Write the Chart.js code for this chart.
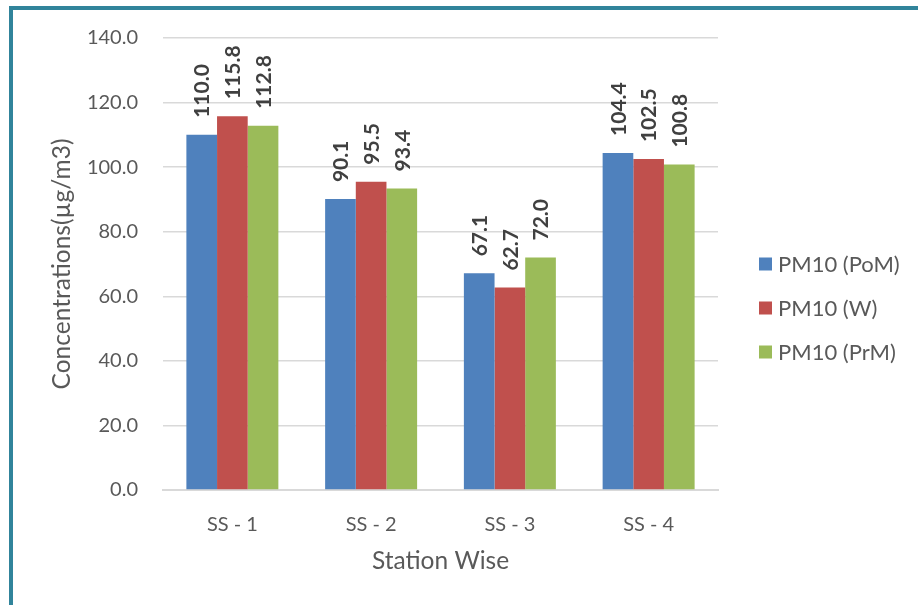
<!DOCTYPE html>
<html>
<head>
<meta charset="utf-8">
<script src="https://cdn.jsdelivr.net/npm/chart.js@4/dist/chart.umd.min.js"></script>
<style>
  html, body { margin: 0; padding: 0; background: #fff; }
  #wrap { position: relative; width: 918px; height: 605px; overflow: hidden; }
  #frame { position: absolute; left: 9px; top: 6px; width: 1000px; height: 700px;
           border-left: 4px solid #31849b; border-top: 4px solid #31849b; }
  canvas { position: absolute; left: 0; top: 0; }
</style>
</head>
<body>
<div id="wrap">
  <div id="frame"></div>
  <canvas id="chart" width="918" height="605"></canvas>
</div>
<script>
// Station categories and PM10 series
const stations = ['SS - 1', 'SS - 2', 'SS - 3', 'SS - 4'];
const seriesNames = ['PM10 (PoM)', 'PM10 (W)', 'PM10 (PrM)'];
const pomValues = [110.0, 90.1, 67.1, 104.4];
const wValues = [115.8, 95.5, 62.7, 102.5];
const prmValues = [112.8, 93.4, 72.0, 100.8];
const colors = ['#4f81bd', '#c0504d', '#9bbb59'];

const FONT = 'Lato, "Open Sans", sans-serif';
const textColor = '#595959';

// rotated bold value above each bar
const barLabels = {
  id: 'barLabels',
  afterDatasetsDraw(chart) {
    const ctx = chart.ctx;
    ctx.save();
    ctx.font = 'bold 21px ' + FONT;
    ctx.fillStyle = '#404040';
    ctx.textAlign = 'left';
    ctx.textBaseline = 'middle';
    chart.data.datasets.forEach((ds, di) => {
      chart.getDatasetMeta(di).data.forEach((bar, i) => {
        ctx.save();
        ctx.translate(bar.x + 1, bar.y - 17);
        ctx.rotate(-Math.PI / 2);
        ctx.fillText(ds.data[i].toFixed(1), 0, 0);
        ctx.restore();
      });
    });
    ctx.restore();
  }
};

// legend on the right, Excel style
const sideLegend = {
  id: 'sideLegend',
  afterDraw(chart) {
    const ctx = chart.ctx;
    ctx.save();
    ctx.font = '22px ' + FONT;
    ctx.textBaseline = 'middle';
    chart.data.datasets.forEach((ds, i) => {
      const y = 264 + i * 44;
      ctx.fillStyle = ds.backgroundColor;
      ctx.fillRect(759, y - 6.5, 13, 13);
      ctx.fillStyle = textColor;
      ctx.fillText(ds.label, 778, y + 1);
    });
    ctx.restore();
  }
};

new Chart(document.getElementById('chart').getContext('2d'), {
  type: 'bar',
  data: {
    labels: stations,
    datasets: [pomValues, wValues, prmValues].map((vals, i) => ({
      label: seriesNames[i],
      data: vals,
      backgroundColor: colors[i],
      borderWidth: 0,
      categoryPercentage: 0.663,
      barPercentage: 1,
    })),
  },
  options: {
    responsive: false,
    animation: false,
    layout: { padding: { left: 45, right: 200, top: 38, bottom: 29 } },
    plugins: { legend: { display: false }, tooltip: { enabled: false } },
    scales: {
      x: {
        grid: { display: false },
        border: { display: true, color: '#d9d9d9', width: 2 },
        ticks: { color: textColor, font: { family: FONT, size: 20 }, padding: 15 },
        title: { display: true, text: 'Station Wise', color: textColor,
                 font: { family: FONT, size: 24.5 }, padding: { top: 7, bottom: 0 } },
        afterFit: s => { s.height = 86; },
      },
      y: {
        min: 0, max: 140,
        ticks: { stepSize: 20, color: textColor, font: { family: FONT, size: 20 }, padding: 25,
                 callback: v => v.toFixed(1) },
        grid: { color: '#d9d9d9', lineWidth: 1.5, drawTicks: false },
        border: { display: false },
        title: { display: true, text: 'Concentrations(µg/m3)', color: textColor,
                 font: { family: FONT, size: 24.5 }, padding: { top: 2, bottom: 0 } },
        afterFit: s => { s.width = 118; },
      },
    },
  },
  plugins: [barLabels, sideLegend],
});
</script>
</body>
</html>
